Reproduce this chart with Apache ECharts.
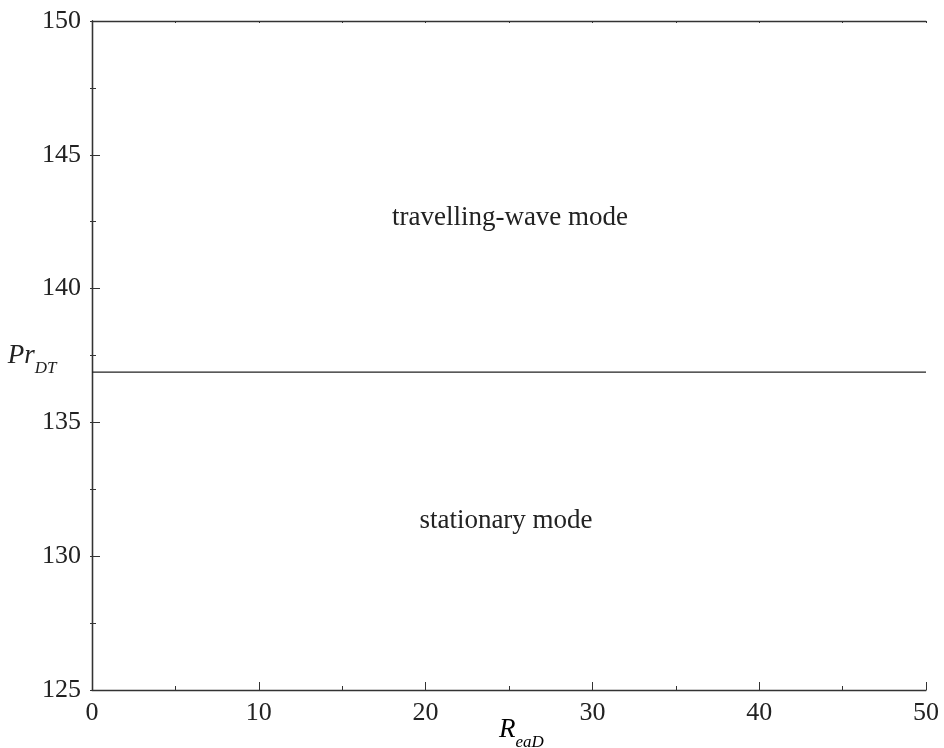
<!DOCTYPE html>
<html><head><meta charset="utf-8">
<script src="https://cdn.jsdelivr.net/npm/echarts@6/dist/echarts.min.js"></script>
<style>html,body{margin:0;padding:0;background:#fff}#c{width:944px;height:748px}</style>
</head><body><div id="c"></div>
<script>
const xRange = [0, 50];
const yRange = [125, 150];
const boundaryX = [0, 50];
const boundaryY = [136.88, 136.88];
const regionLabels = ['travelling-wave mode', 'stationary mode'];
const regionX = [25.06, 24.82];
const regionY = [142.64, 131.32];

const font = 'Liberation Serif, Times New Roman, serif';
const chart = echarts.init(document.getElementById('c'), null, {renderer: 'canvas'});
const axisLine = {show: true, lineStyle: {color: '#333', width: 1.3}};
const nameRich = {
  i: {fontFamily: font, fontStyle: 'italic', fontSize: 27, color: '#222'},
  s: {fontFamily: font, fontStyle: 'italic', fontSize: 17, color: '#222', verticalAlign: 'bottom', padding: [0,0,-8,0]}
};
chart.setOption({
  animation: false,
  backgroundColor: '#fff',
  grid: {left: 92, right: 18, top: 21, bottom: 58, containLabel: false, outerBoundsMode: 'none'},
  graphic: [{
    type: 'text', left: 499, top: 716,
    style: {text: '{i|R}{s|eaD}', rich: nameRich}
  }],
  xAxis: [{
    type: 'value', min: xRange[0], max: xRange[1], interval: 10,
    axisLine: axisLine,
    axisTick: {inside: true, length: 8, lineStyle: {color: '#333'}},
    minorTick: {show: true, splitNumber: 2, length: 4, lineStyle: {color: '#333'}},
    splitLine: {show: false},
    axisLabel: {color: '#222', fontFamily: font, fontSize: 26, margin: 10}
  }, {
    type: 'value', position: 'top', min: xRange[0], max: xRange[1], interval: 10,
    axisLine: axisLine,
    axisTick: {inside: true, length: 2, lineStyle: {color: '#333'}},
    minorTick: {show: true, splitNumber: 2, length: 2, lineStyle: {color: '#333'}},
    splitLine: {show: false}, axisLabel: {show: false}
  }],
  yAxis: [{
    type: 'value', min: yRange[0], max: yRange[1], interval: 5,
    axisLine: axisLine,
    axisTick: {inside: true, length: 8, lineStyle: {color: '#333'}},
    minorTick: {show: true, splitNumber: 2, length: 4, lineStyle: {color: '#333'}},
    splitLine: {show: false},
    axisLabel: {color: '#222', fontFamily: font, fontSize: 26, margin: 11},
    name: '{i|Pr}{s|DT}', nameLocation: 'middle', nameRotate: 0, nameGap: 60, nameMoveOverlap: false,
    nameTextStyle: {align: 'center', rich: nameRich}
  }, {
    type: 'value', position: 'right', min: yRange[0], max: yRange[1], interval: 5,
    axisLine: axisLine,
    axisTick: {inside: true, length: 2, lineStyle: {color: '#333'}},
    minorTick: {show: true, splitNumber: 2, length: 2, lineStyle: {color: '#333'}},
    splitLine: {show: false}, axisLabel: {show: false}
  }],
  series: [{
    type: 'line', symbol: 'none',
    data: boundaryX.map((x, i) => [x, boundaryY[i]]),
    lineStyle: {color: '#222', width: 1.2}
  }, {
    type: 'scatter', symbolSize: 0, itemStyle: {opacity: 1},
    data: regionLabels.map((t, i) => ({value: [regionX[i], regionY[i]], name: t})),
    label: {show: true, position: 'inside', formatter: p => p.name,
      fontFamily: font, fontSize: 27, color: '#222'}
  }]
});
</script></body></html>
